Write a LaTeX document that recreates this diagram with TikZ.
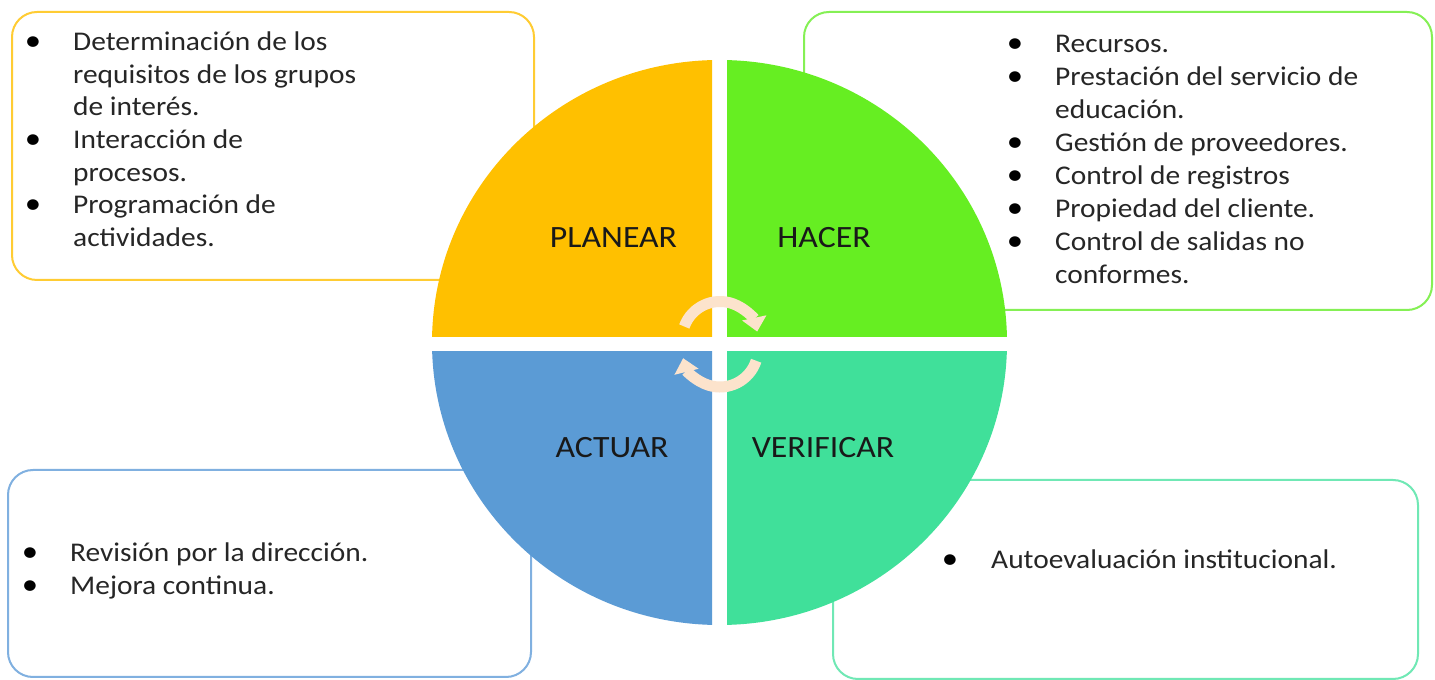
\documentclass[tikz,border=0pt]{standalone}
\usepackage{fontspec}
\setmainfont{Carlito}[FakeStretch=1.09]
\usetikzlibrary{arrows.meta}
\definecolor{cplan}{HTML}{FFC000}
\definecolor{chacer}{HTML}{66EE22}
\definecolor{cact}{HTML}{5B9BD5}
\definecolor{cver}{HTML}{40E09A}
\definecolor{bplan}{HTML}{FFCC33}
\definecolor{bhacer}{HTML}{85F055}
\definecolor{bact}{HTML}{80B0E0}
\definecolor{bver}{HTML}{70E8B5}
\definecolor{carrow}{HTML}{FCE3CC}
\begin{document}
\begin{tikzpicture}[x=1pt,y=1pt,
  txt/.style={font=\fontsize{27}{33}\selectfont, anchor=base west, inner sep=0pt, text=black!85},
  bul/.style={font=\fontsize{30}{33}\selectfont, anchor=base, inner sep=0pt},
  lab/.style={font=\fontsize{31}{37}\selectfont, anchor=base, inner sep=0pt, text=black!90},
  box/.style={rounded corners=25pt, fill=white, line width=2pt},
  cyc/.style={draw=carrow, line width=11pt, -{Triangle[width=24pt,length=14pt]}}]
\useasboundingbox (0,0) rectangle (1435,680);
\fill[white] (0,0) rectangle (1435,680);
% boxes
\draw[box, draw=bplan] (12,400) rectangle (534,668);
\draw[box, draw=bhacer] (804,370) rectangle (1432,668);
\draw[box, draw=bact] (8,3) rectangle (531,210);
\draw[box, draw=bver] (833,1) rectangle (1418,200);
% quadrants
\begin{scope}
  \clip (0,343) rectangle (712,680);
  \fill[cplan] (719.5,337.5) ellipse [x radius=287.5, y radius=282.5];
\end{scope}
\begin{scope}
  \clip (727,343) rectangle (1435,680);
  \fill[chacer] (719.5,337.5) ellipse [x radius=287.5, y radius=282.5];
\end{scope}
\begin{scope}
  \clip (0,0) rectangle (712,328);
  \fill[cact] (719.5,337.5) ellipse [x radius=287.5, y radius=282.5];
\end{scope}
\begin{scope}
  \clip (727,0) rectangle (1435,328);
  \fill[cver] (719.5,337.5) ellipse [x radius=287.5, y radius=282.5];
\end{scope}
% cycle arrows
\draw[cyc] (720,340.5) ++(160:38) arc[start angle=160, end angle=12, radius=38];
\draw[cyc] (720,331) ++(-18:38) arc[start angle=-18, end angle=-166, radius=38];
% labels
\node[lab] (planear) at (613.5,432) {PLANEAR};
\node[lab] (hacer) at (824,432) {HACER};
\node[lab] (actuar) at (612,222) {ACTUAR};
\node[lab] (verificar) at (823,222) {VERIFICAR};
% top-left list
\node[bul] (tlb1) at (33,629.5) {•};
\node[txt] (tl1) at (73,629.5) {Determinación de los};
\node[txt] (tl2) at (73,596.8) {requisitos de los grupos};
\node[txt] (tl3) at (73,564.1) {de interés.};
\node[bul] (tlb2) at (33,531.4) {•};
\node[txt] (tl4) at (73,531.4) {Interacción de};
\node[txt] (tl5) at (73,498.7) {procesos.};
\node[bul] (tlb3) at (33,466) {•};
\node[txt] (tl6) at (73,466) {Programación de};
\node[txt] (tl7) at (73,433.3) {actividades.};
% top-right list
\node[bul] (trb1) at (1015,627) {•};
\node[txt] (tr1) at (1055,627) {Recursos.};
\node[bul] (trb2) at (1015,594) {•};
\node[txt] (tr2) at (1055,594) {Prestación del servicio de};
\node[txt] (tr3) at (1055,561) {educación.};
\node[bul] (trb3) at (1015,528) {•};
\node[txt] (tr4) at (1055,528) {Gestión de proveedores.};
\node[bul] (trb4) at (1015,495) {•};
\node[txt] (tr5) at (1055,495) {Control de registros};
\node[bul] (trb5) at (1015,462) {•};
\node[txt] (tr6) at (1055,462) {Propiedad del cliente.};
\node[bul] (trb6) at (1015,429) {•};
\node[txt] (tr7) at (1055,429) {Control de salidas no};
\node[txt] (tr8) at (1055,396) {conformes.};
% bottom-left list
\node[bul] (blb1) at (30,118) {•};
\node[txt] (bl1) at (70,118) {Revisión por la dirección.};
\node[bul] (blb2) at (30,85) {•};
\node[txt] (bl2) at (70,85) {Mejora continua.};
% bottom-right list
\node[bul] (brb1) at (950,111) {•};
\node[txt] (br1) at (991,111) {Autoevaluación institucional.};
\end{tikzpicture}
\end{document}
